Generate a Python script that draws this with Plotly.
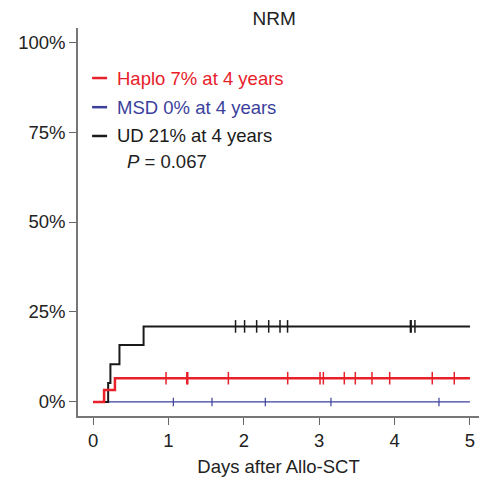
import plotly.graph_objects as go

# Step curves (days, cumulative incidence %)
haplo_t = [0, 0.146, 0.29, 5.0]
haplo_v = [0, 3.3, 6.6, 6.6]
msd_t = [0, 5.0]
msd_v = [0, 0]
ud_t = [0, 0.20, 0.23, 0.35, 0.67, 5.0]
ud_v = [0, 5.3, 10.5, 15.8, 21.0, 21.0]

# Censor marks
haplo_cens = [0.968, 1.243, 1.256, 1.795, 2.582, 3.011, 3.055, 3.333, 3.479, 3.700, 3.935, 4.500, 4.792]
msd_cens = [1.065, 1.578, 2.285, 3.156, 4.589]
ud_cens = [1.89, 2.01, 2.17, 2.33, 2.48, 2.58, 4.21, 4.22, 4.27]

legend_labels = ["Haplo 7% at 4 years", "MSD 0% at 4 years", "UD 21% at 4 years"]
legend_y = [90, 81.9, 73.9]
p_text = "<i>P</i> = 0.067"

x_ticks = [0, 1, 2, 3, 4, 5]
y_ticks = [0, 25, 50, 75, 100]
y_ticklabels = ["0%", "25%", "50%", "75%", "100%"]

RED = "#e8202a"
BLUE = "#3b3f9c"
BLACK = "#1a1a1a"
colors = [RED, BLUE, BLACK]
FONT = "Liberation Sans, Arial, sans-serif"
TXT = "#222222"
FS = 18.5

fig = go.Figure()

def val_at(ts, vs, x):
    v = vs[0]
    for t, vv in zip(ts, vs):
        if t <= x:
            v = vv
    return v

# curves
fig.add_trace(go.Scatter(x=msd_t, y=msd_v, mode="lines", line=dict(color=BLUE, width=1.2, shape="hv")))
fig.add_trace(go.Scatter(x=ud_t, y=ud_v, mode="lines", line=dict(color=BLACK, width=2, shape="hv")))
fig.add_trace(go.Scatter(x=haplo_t, y=haplo_v, mode="lines", line=dict(color=RED, width=2.5, shape="hv")))

# censor marks
fig.add_trace(go.Scatter(x=msd_cens, y=[val_at(msd_t, msd_v, c) for c in msd_cens], mode="markers",
                         marker=dict(symbol="line-ns", size=6, line=dict(color=BLUE, width=1.2))))
fig.add_trace(go.Scatter(x=ud_cens, y=[val_at(ud_t, ud_v, c) for c in ud_cens], mode="markers",
                         marker=dict(symbol="line-ns", size=9, line=dict(color=BLACK, width=1.5))))
fig.add_trace(go.Scatter(x=haplo_cens, y=[val_at(haplo_t, haplo_v, c) for c in haplo_cens], mode="markers",
                         marker=dict(symbol="line-ns", size=9, line=dict(color=RED, width=1.5))))

# legend (annotations + dashes)
for lab, ly, col in zip(legend_labels, legend_y, colors):
    fig.add_shape(type="line", xref="x", yref="y", x0=-0.013, x1=0.186, y0=ly, y1=ly,
                  line=dict(color=col, width=2.5))
    fig.add_annotation(x=0.29, y=ly, xref="x", yref="y", text=lab, showarrow=False,
                       xanchor="left", yanchor="middle", font=dict(family=FONT, size=FS, color=col))
fig.add_annotation(x=0.43, y=66.9, xref="x", yref="y", text=p_text, showarrow=False,
                   xanchor="left", yanchor="middle", font=dict(family=FONT, size=FS, color=TXT))

fig.update_layout(
    width=480, height=482,
    margin=dict(l=78, r=1, t=28, b=66),
    paper_bgcolor="white", plot_bgcolor="white",
    showlegend=False,
    title=dict(text="NRM", x=0.571, xanchor="center", y=0.962, yanchor="middle",
               font=dict(family=FONT, size=19, color=TXT)),
    font=dict(family=FONT, size=FS, color=TXT),
)
fig.update_xaxes(range=[-0.2, 5.12], tickvals=x_ticks, ticks="outside", ticklen=7, tickwidth=1.2,
                 tickcolor="#666", showline=True, linecolor="#777", linewidth=1.5, showgrid=False,
                 zeroline=False, title=dict(text="Days after Allo-SCT", standoff=10,
                                            font=dict(family=FONT, size=FS, color=TXT)),
                 tickfont=dict(family=FONT, size=FS, color=TXT))
fig.update_yaxes(range=[-3.9, 103.9], tickvals=y_ticks, ticktext=y_ticklabels, ticks="outside", ticklen=7,
                 tickwidth=1.2, tickcolor="#666", showline=True, linecolor="#777", linewidth=1.5,
                 showgrid=False, zeroline=False, tickfont=dict(family=FONT, size=FS, color=TXT))

fig.write_html("out.html", config={"displayModeBar": False},
               post_script="document.body.style.margin='0';")
